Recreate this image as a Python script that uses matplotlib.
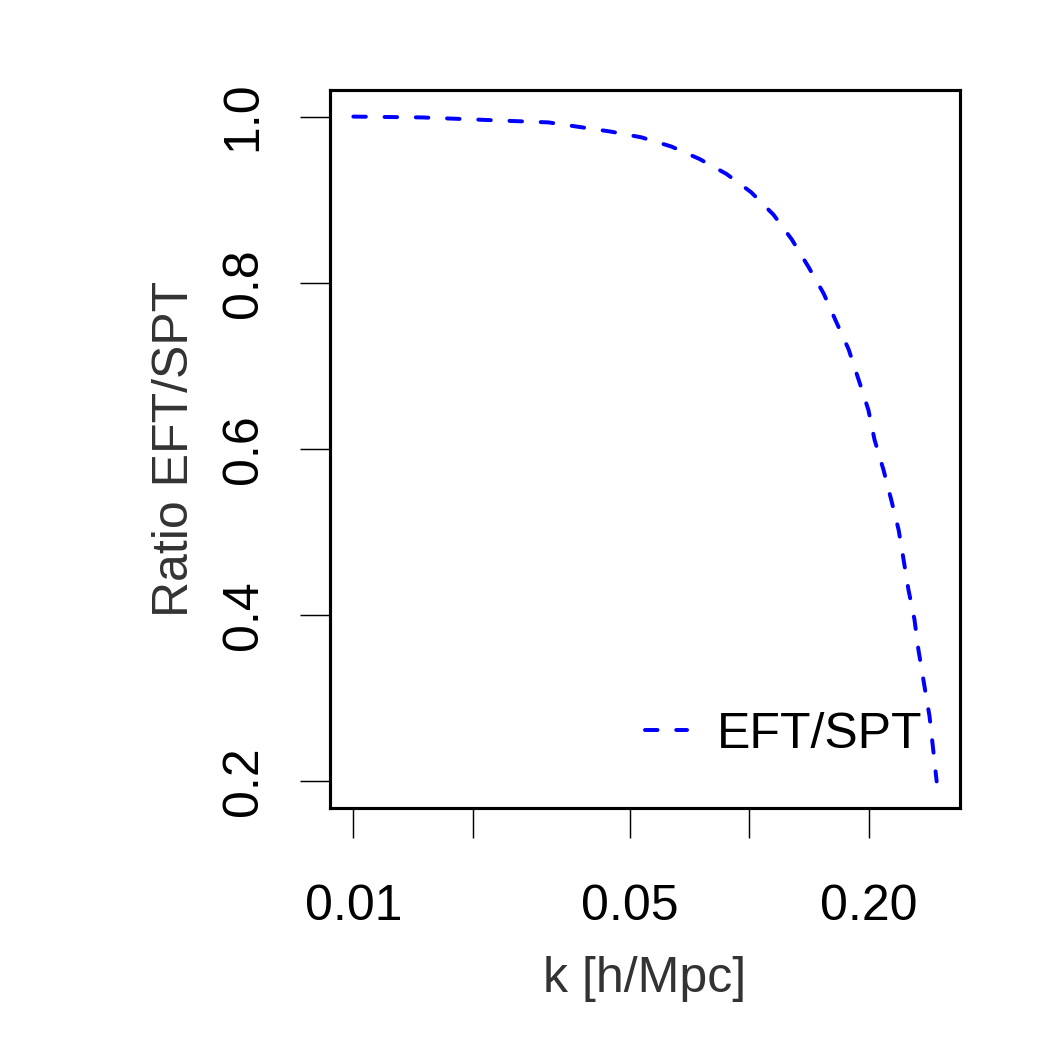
import numpy as np
import matplotlib
matplotlib.use("Agg")
import matplotlib.pyplot as plt
from matplotlib.ticker import FixedLocator, FixedFormatter, NullLocator

plt.rcParams['font.family'] = ['Liberation Sans', 'DejaVu Sans']
plt.rcParams['lines.scale_dashes'] = False

# values
k = [0.0100, 0.0149, 0.0215, 0.0311, 0.0446, 0.0534, 0.0635, 0.0748, 0.0875,
     0.101, 0.115, 0.128, 0.141, 0.154, 0.166, 0.178, 0.1885, 0.1997, 0.207,
     0.218, 0.228, 0.238, 0.245, 0.252, 0.261, 0.267, 0.275, 0.285, 0.297]
ratio = [1.000, 0.999, 0.996, 0.993, 0.982, 0.975, 0.964, 0.949, 0.931,
         0.909, 0.882, 0.852, 0.819, 0.787, 0.752, 0.720, 0.684, 0.647, 0.611,
         0.575, 0.539, 0.503, 0.467, 0.431, 0.395, 0.359, 0.322, 0.278, 0.200]

xticks = [0.01, 0.02, 0.05, 0.1, 0.2]
xticklabels = ["0.01", "", "0.05", "", "0.20"]
yticks = [0.2, 0.4, 0.6, 0.8, 1.0]
yticklabels = ["0.2", "0.4", "0.6", "0.8", "1.0"]

fig = plt.figure(figsize=(7, 7), dpi=150)
ax = fig.add_axes([330/1050, 1 - 808/1050, 630/1050, 718/1050])

ax.plot(k, ratio, color='blue', lw=1.9, dashes=(6.0, 9.0),
        dash_capstyle='round', label='EFT/SPT')

ax.set_xscale('log')
# R style 4% padding
lx0, lx1 = np.log10(min(k)), np.log10(max(k))
px = 0.04 * (lx1 - lx0)
ax.set_xlim(10**(lx0 - px), 10**(lx1 + px))
py = 0.04 * (max(ratio) - min(ratio))
ax.set_ylim(min(ratio) - py, max(ratio) + py)

ax.xaxis.set_major_locator(FixedLocator(xticks))
ax.xaxis.set_major_formatter(FixedFormatter(xticklabels))
ax.xaxis.set_minor_locator(NullLocator())
ax.set_yticks(yticks)
ax.set_yticklabels(yticklabels, rotation=90, va='center')

ax.tick_params(axis='both', length=14.4, width=0.7, labelsize=24,
               direction='out', colors='black')
ax.tick_params(axis='x', pad=22)
ax.tick_params(axis='y', pad=16)
for s in ax.spines.values():
    s.set_linewidth(1.5)

ax.set_xlabel("k [h/Mpc]", fontsize=24, color='#333333', labelpad=12.5)
ax.set_ylabel("Ratio EFT/SPT", fontsize=24, color='#333333', labelpad=11)

ax.legend(loc='center right', bbox_to_anchor=(0.941, 0.1017), frameon=False,
          fontsize=24, borderpad=0, borderaxespad=0, handlelength=0.85,
          handletextpad=0.6)

fig.savefig("out.png", dpi=150)
